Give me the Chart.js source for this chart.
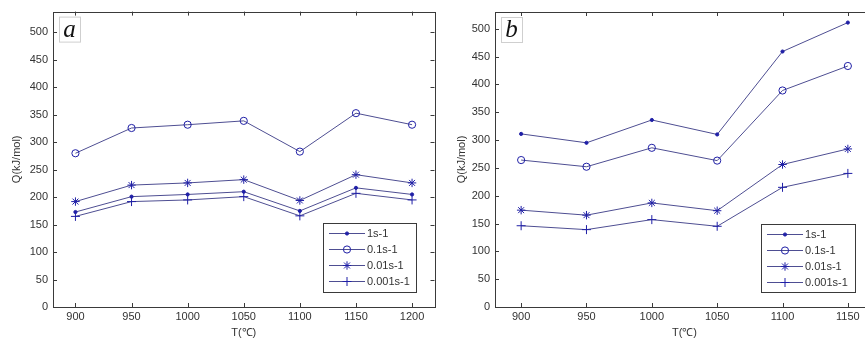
<!DOCTYPE html>
<html>
<head>
<meta charset="utf-8">
<script src="https://cdn.jsdelivr.net/npm/chart.js@4"></script>
<style>
  html, body { margin:0; padding:0; background:#fff; overflow:hidden; width:865px; height:340px; }
  canvas { position:absolute; top:0; }
  #chartA { left:0; }
  #chartB { left:440px; }
</style>
</head>
<body>
<canvas id="chartA" width="440" height="340"></canvas>
<canvas id="chartB" width="440" height="340"></canvas>
<script>
// temperatures (x) and tick values
var tempA = [900, 950, 1000, 1050, 1100, 1150, 1200]
var tempB = [900, 950, 1000, 1050, 1100, 1150]
var yTicks = [0, 50, 100, 150, 200, 250, 300, 350, 400, 450, 500]
var seriesNames = ['1s-1', '0.1s-1', '0.01s-1', '0.001s-1']

// panel a, Q (kJ/mol)
var qA_1    = [173, 201, 205, 210, 175, 217, 205]
var qA_01   = [280, 326, 332, 339, 283, 353, 332]
var qA_001  = [192, 222, 226, 232, 194, 241, 226]
var qA_0001 = [165, 192, 195, 201, 166, 207, 195]

// panel b, Q (kJ/mol)
var qB_1    = [311, 295, 336, 310, 459, 511]
var qB_01   = [264, 252, 286, 263, 389, 433]
var qB_001  = [174, 165, 187, 173, 256, 284]
var qB_0001 = [146, 139, 157, 145, 215, 240]

var lineColor = '#4e4e92'
var markColor = '#1f1fa6'
var frameColor = '#3a3a3a'
var textColor = '#333'
var fontName = "'Liberation Sans', Arial, sans-serif"

var markers = [
    {pointStyle:'circle', radius:1.6, bg:markColor},
    {pointStyle:'circle', radius:3.6, bg:'rgba(0,0,0,0)'},
    {pointStyle:'star', radius:4.2, bg:markColor},
    {pointStyle:'cross', radius:4.5, bg:markColor}
]

function makeDatasets(xs, arrays){
    var sets = []
    for(var i=0;i<arrays.length;i++){
        var pts = []
        for(var j=0;j<xs.length;j++){
            pts.push({x:xs[j], y:arrays[i][j]})
        }
        sets.push({
            label: seriesNames[i],
            data: pts,
            borderColor: lineColor,
            borderWidth: 1,
            pointStyle: markers[i].pointStyle,
            pointRadius: markers[i].radius,
            pointBorderColor: markColor,
            pointBackgroundColor: markers[i].bg,
            pointBorderWidth: 1,
            tension: 0
        })
    }
    return sets
}

// box + inward tick marks like matlab
var framePlugin = {
    id: 'frame',
    afterDatasetsDraw: function(chart){
        var ctx = chart.ctx
        var a = chart.chartArea
        var xs = chart.scales.x, ys = chart.scales.y
        ctx.save()
        ctx.strokeStyle = frameColor
        ctx.lineWidth = 1
        ctx.strokeRect(Math.round(a.left)+0.5, Math.round(a.top)+0.5, Math.round(a.right-a.left), Math.round(a.bottom-a.top))
        ctx.beginPath()
        xs.ticks.forEach(function(t){
            var px = Math.round(xs.getPixelForValue(t.value))+0.5
            ctx.moveTo(px, a.bottom); ctx.lineTo(px, a.bottom-4)
            ctx.moveTo(px, a.top); ctx.lineTo(px, a.top+4)
        })
        ys.ticks.forEach(function(t){
            var py = Math.round(ys.getPixelForValue(t.value))+0.5
            ctx.moveTo(a.left, py); ctx.lineTo(a.left+4, py)
            ctx.moveTo(a.right, py); ctx.lineTo(a.right-4, py)
        })
        ctx.stroke()

        // panel letter
        var o = chart.options.plugins.frame
        ctx.fillStyle = '#fff'
        ctx.strokeStyle = '#cfcfcf'
        ctx.fillRect(a.left+6, a.top+5, 21, 25)
        ctx.strokeRect(a.left+6.5, a.top+5.5, 21, 25)
        ctx.fillStyle = '#111'
        ctx.font = "italic 25px 'Liberation Serif', 'Times New Roman', serif"
        ctx.textAlign = 'center'
        ctx.textBaseline = 'alphabetic'
        ctx.fillText(o.letter, a.left+16.5, a.top+25)

        // legend box in lower right
        var lg = o.legend
        ctx.fillStyle = '#fff'
        ctx.fillRect(lg.x, lg.y, lg.w, lg.h)
        ctx.strokeStyle = frameColor
        ctx.strokeRect(lg.x+0.5, lg.y+0.5, lg.w, lg.h)
        ctx.font = '11px ' + fontName
        ctx.textAlign = 'left'
        ctx.textBaseline = 'middle'
        chart.data.datasets.forEach(function(ds, i){
            var ry = Math.round(lg.y + 10 + i*16) + 0.5
            ctx.lineWidth = 1
            ctx.strokeStyle = lineColor
            ctx.beginPath()
            ctx.moveTo(lg.x+6, ry); ctx.lineTo(lg.x+42, ry)
            ctx.stroke()
            ctx.fillStyle = ds.pointBackgroundColor
            ctx.strokeStyle = markColor
            Chart.helpers.drawPoint(ctx, {
                pointStyle: ds.pointStyle, radius: ds.pointRadius, rotation: 0,
                borderWidth: 1
            }, lg.x+24, ry)
            ctx.fillStyle = textColor
            ctx.fillText(ds.label, lg.x+44, ry)
        })
        ctx.restore()
    }
}

function printChart(id, xs, arrays, opts){
    var ctx = document.getElementById(id).getContext('2d')
    return new Chart(ctx, {
        type: 'line',
        data: { datasets: makeDatasets(xs, arrays) },
        options: {
            responsive: false,
            animation: false,
            layout: { padding: { left:0, right:opts.padRight, top:opts.padTop, bottom:0 } },
            plugins: {
                legend: { display:false },
                tooltip: { enabled:false },
                frame: { letter: opts.letter, legend: opts.legend }
            },
            scales: {
                x: {
                    type: 'linear',
                    min: 880, max: opts.xMax,
                    afterBuildTicks: function(s){ s.ticks = xs.map(function(v){ return {value:v} }) },
                    afterFit: function(s){ s.height = 33 },
                    grid: { display:false, drawTicks:false, tickLength:0 },
                    border: { display:false },
                    ticks: { color:textColor, font:{family:fontName, size:11}, padding:3, maxRotation:0, autoSkip:false,
                        callback: function(v){ return String(v) } },
                    title: { display:true, text:'T(℃)', color:textColor, font:{family:fontName, size:11}, padding:{top:0, bottom:0} }
                },
                y: {
                    type: 'linear',
                    min: 0, max: opts.yMax,
                    afterBuildTicks: function(s){ s.ticks = yTicks.map(function(v){ return {value:v} }) },
                    afterFit: function(s){ s.width = opts.yWidth },
                    grid: { display:false, drawTicks:false, tickLength:0 },
                    border: { display:false },
                    ticks: { color:textColor, font:{family:fontName, size:11}, padding:5, autoSkip:false },
                    title: { display:true, text:'Q(kJ/mol)', color:textColor, font:{family:fontName, size:11}, padding:{top:opts.yTitlePad, bottom:0} }
                }
            }
        },
        plugins: [framePlugin]
    })
}

printChart('chartA', tempA, [qA_1, qA_01, qA_001, qA_0001], {
    letter:'a', xMax:1220, yMax:538, padRight:5, padTop:9, yWidth:53, yTitlePad:10,
    legend:{x:323, y:223, w:93, h:69}
})
printChart('chartB', tempB, [qB_1, qB_01, qB_001, qB_0001], {
    letter:'b', xMax:1170, yMax:530, padRight:6, padTop:12, yWidth:55, yTitlePad:15,
    legend:{x:321, y:224, w:94, h:68}
})
</script>
</body>
</html>
